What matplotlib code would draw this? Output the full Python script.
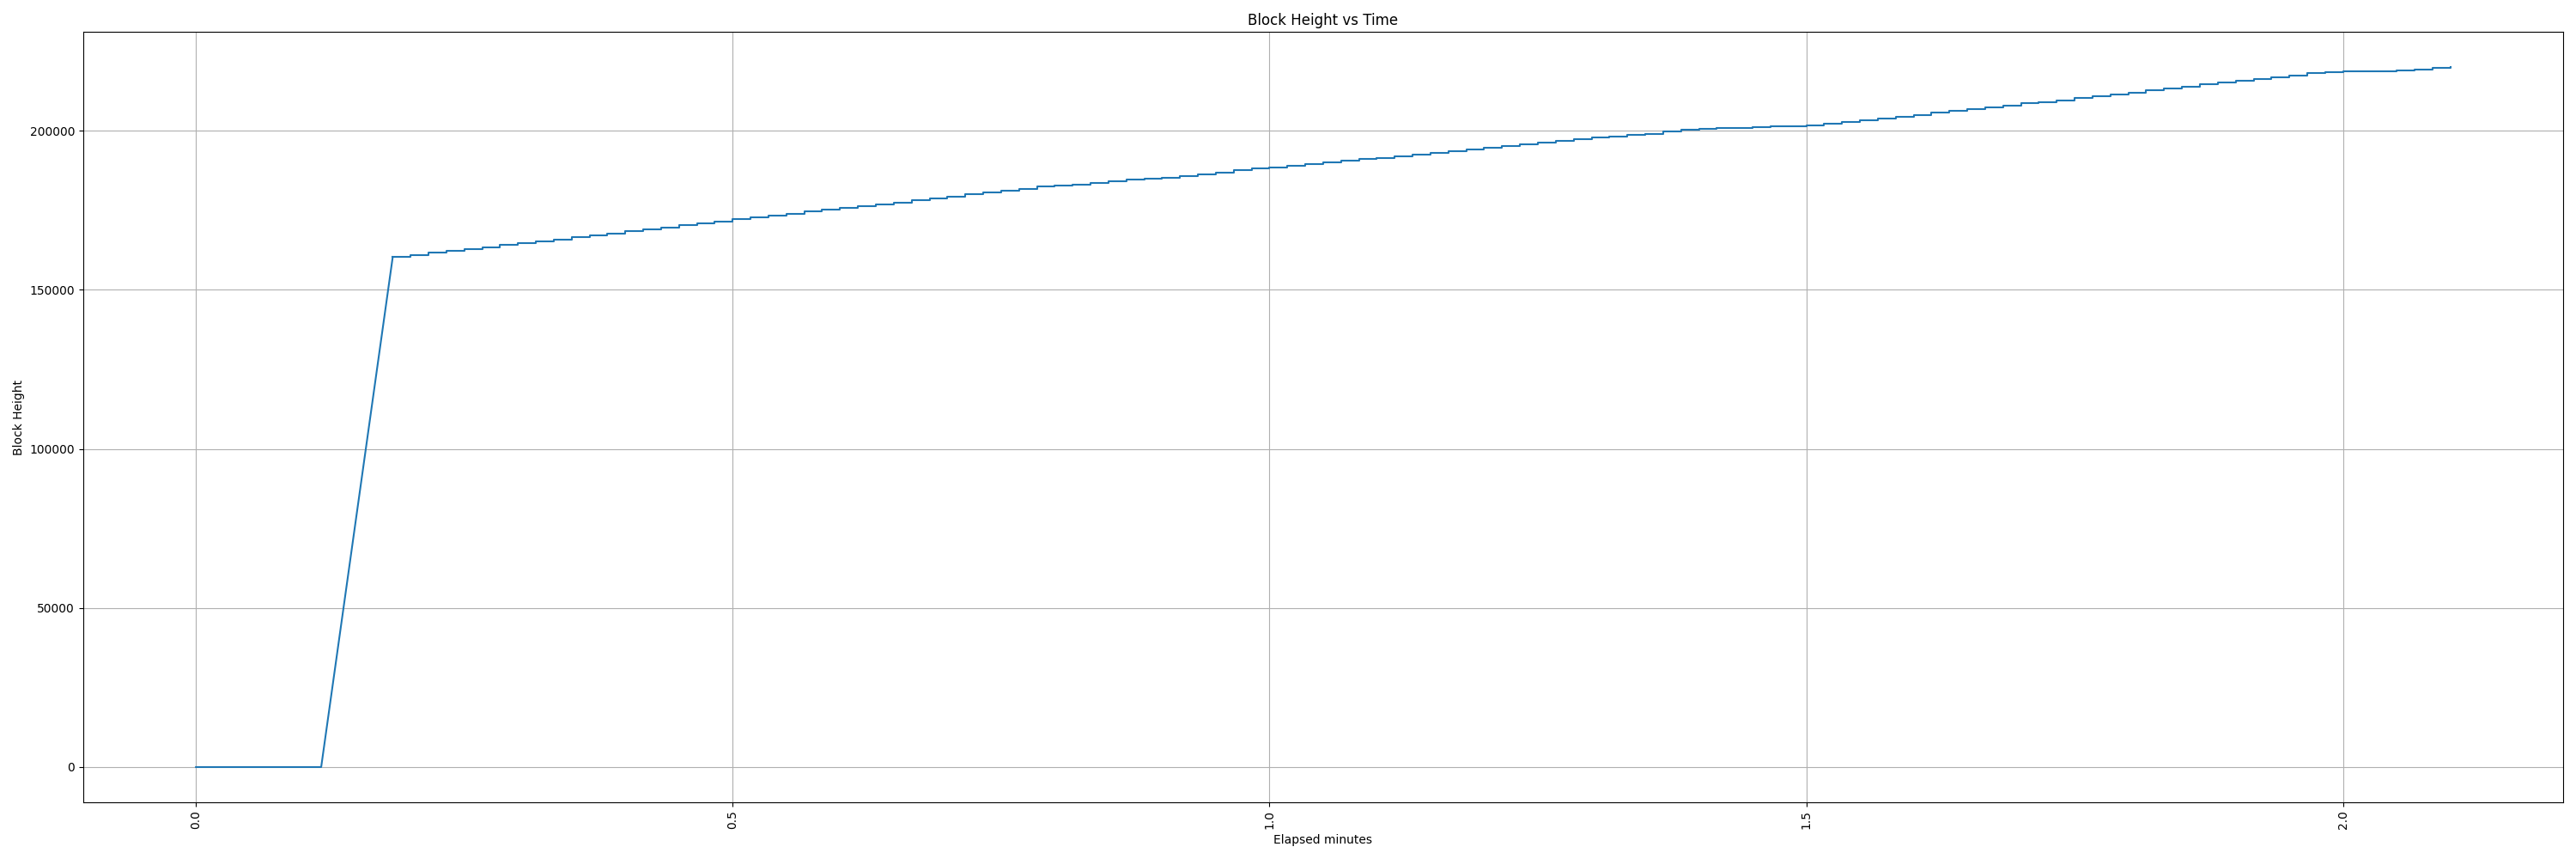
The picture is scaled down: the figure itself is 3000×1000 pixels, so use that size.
""" Block height vs time plot """
import numpy as np
import matplotlib.pyplot as plt

# Before sync: node reports height 0, then jumps to the snapshot height
pre_time = [0, 7, 11]  # sec
pre_height = [0, 0, 160310]

# After the jump the height is updated once per second
step_time = list(range(11, 127))  # sec
step_height = [
    160310, 160940, 161570, 162200, 162830, 163370, 164000, 164630, 165260, 165800,
    166430, 167060, 167690, 168320, 168950, 169580, 170210, 170840, 171470, 172100,
    172730, 173270, 173900, 174530, 175070, 175610, 176330, 176870, 177410, 178040,
    178660, 179290, 179920, 180550, 181180, 181720, 182350, 182800, 182980, 183430,
    183970, 184600, 184870, 185140, 185680, 186220, 186850, 187480, 188110, 188290,
    188830, 189370, 189910, 190540, 191080, 191440, 191980, 192430, 192970, 193510,
    193960, 194500, 195130, 195670, 196120, 196660, 197200, 197740, 198190, 198640,
    199000, 199630, 200170, 200620, 200850, 200890, 201070, 201250, 201430, 201610,
    202060, 202600, 203230, 203770, 204310, 204940, 205560, 206100, 206730, 207270,
    207900, 208530, 209000, 209570, 210240, 210780, 211410, 211950, 212670, 213210,
    213840, 214470, 215010, 215640, 216180, 216810, 217350, 217980, 218430, 218520,
    218610, 218700, 218790, 219060, 219600, 219960,
]

pre_min = np.array(pre_time) / 60
step_min = np.array(step_time) / 60

plt.figure(figsize=(30, 10), dpi=100)
plt.plot(pre_min, pre_height, color="C0")
plt.step(step_min, step_height, where="post", color="C0")
plt.xlabel("Elapsed minutes")
plt.ylabel("Block Height")
plt.title("Block Height vs Time")
plt.xticks(rotation=90)
plt.grid()
plt.tight_layout()
plt.savefig("out.png")
